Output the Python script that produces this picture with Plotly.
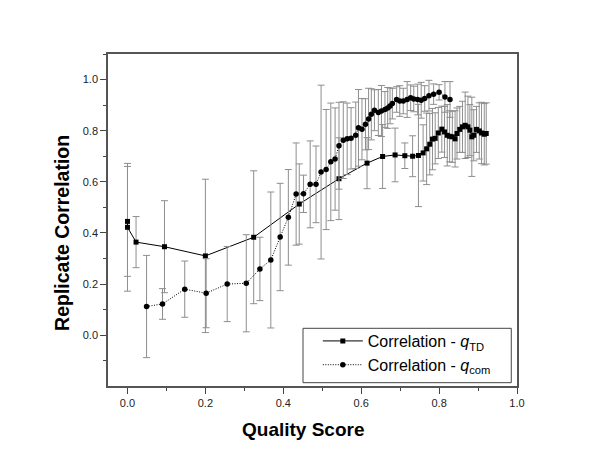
import plotly.graph_objects as go

# ---- data: Correlation - q_TD (squares, solid line)
x_td = [0.0, 0.0, 0.022, 0.095, 0.2, 0.324, 0.441, 0.543, 0.615, 0.655, 0.687, 0.712,
        0.732, 0.747, 0.759, 0.768, 0.776, 0.783, 0.79, 0.798, 0.807, 0.814, 0.821,
        0.827, 0.834, 0.841, 0.846, 0.853, 0.86, 0.867, 0.874, 0.879, 0.884, 0.889,
        0.896, 0.903, 0.909, 0.916, 0.921]
y_td = [0.445, 0.422, 0.364, 0.346, 0.31, 0.383, 0.513, 0.612, 0.673, 0.699, 0.705, 0.702,
        0.70, 0.703, 0.713, 0.729, 0.747, 0.767, 0.77, 0.791, 0.806, 0.795, 0.782,
        0.778, 0.776, 0.768, 0.789, 0.805, 0.815, 0.821, 0.815, 0.802, 0.776, 0.782,
        0.805, 0.799, 0.791, 0.786, 0.789]
e_td = [0.215, 0.25, 0.1, 0.18, 0.3, 0.26, 0.157, 0.16, 0.1, 0.125, 0.105, 0.05,
        0.08, 0.2, 0.11, 0.14, 0.12, 0.12, 0.1, 0.1, 0.09, 0.1, 0.12,
        0.1, 0.1, 0.11, 0.1, 0.09, 0.1, 0.13, 0.12, 0.1, 0.155, 0.1,
        0.09, 0.11, 0.12, 0.12, 0.12]

# ---- data: Correlation - q_com (circles, dotted line)
x_com = [0.049, 0.09, 0.147, 0.202, 0.256, 0.305, 0.34, 0.368, 0.392, 0.413, 0.433,
         0.452, 0.469, 0.484, 0.497, 0.51, 0.522, 0.533, 0.543, 0.554, 0.564, 0.574,
         0.586, 0.593, 0.602, 0.611, 0.619, 0.626, 0.634, 0.644, 0.652, 0.661, 0.668,
         0.674, 0.68, 0.691, 0.699, 0.708, 0.718, 0.727, 0.735, 0.745, 0.754, 0.763,
         0.774, 0.786, 0.80, 0.815, 0.828]
y_com = [0.112, 0.122, 0.18, 0.164, 0.2, 0.203, 0.259, 0.294, 0.384, 0.461, 0.552,
         0.553, 0.59, 0.59, 0.638, 0.648, 0.678, 0.689, 0.741, 0.763, 0.768, 0.77,
         0.782, 0.811, 0.806, 0.825, 0.846, 0.864, 0.88, 0.871, 0.877, 0.883, 0.889,
         0.897, 0.906, 0.922, 0.916, 0.916, 0.922, 0.929, 0.924, 0.922, 0.919, 0.926,
         0.937, 0.943, 0.95, 0.932, 0.922]
e_com = [0.2, 0.06, 0.11, 0.135, 0.147, 0.19, 0.124, 0.266, 0.21, 0.187, 0.2,
         0.073, 0.17, 0.15, 0.34, 0.235, 0.23, 0.2, 0.17, 0.15, 0.14, 0.12,
         0.13, 0.15, 0.12, 0.1, 0.12, 0.1, 0.08, 0.09, 0.1, 0.07, 0.08,
         0.07, 0.06, 0.05, 0.06, 0.05, 0.07, 0.05, 0.05, 0.06, 0.07, 0.05,
         0.06, 0.04, 0.03, 0.06, 0.07]

FONT = "Liberation Sans, Arial, sans-serif"
ERR_COLOR = "#8e8e8e"

fig = go.Figure()
fig.add_trace(go.Scatter(
    x=x_td, y=y_td, mode="lines+markers",
    name="Correlation - <i>q</i><sub>TD</sub>",
    line=dict(color="black", width=1),
    marker=dict(symbol="square", size=5, color="black"),
    error_y=dict(type="data", array=e_td, visible=True, color=ERR_COLOR,
                 thickness=1, width=3.5),
))
fig.add_trace(go.Scatter(
    x=x_com, y=y_com, mode="lines+markers",
    name="Correlation - <i>q</i><sub>com</sub>",
    line=dict(color="black", width=1, dash="1px,1.5px"),
    marker=dict(symbol="circle", size=5.5, color="black"),
    error_y=dict(type="data", array=e_com, visible=True, color=ERR_COLOR,
                 thickness=1, width=3.5),
))

axis_common = dict(
    showline=True, linecolor="#555555", linewidth=1.5, mirror=True,
    ticks="outside", ticklen=6, tickcolor="#444444", tickwidth=1,
    showgrid=False, zeroline=False, tickformat=".1f",
    tickfont=dict(family=FONT, size=11, color="#222222"),
    minor=dict(dtick=0.1, ticks="outside", ticklen=3, tickcolor="#444444", tickwidth=1),
)
fig.update_xaxes(range=[-0.05, 1.0], tick0=0, dtick=0.2, **axis_common)
fig.update_yaxes(range=[-0.199, 1.1], tick0=0, dtick=0.2, **axis_common)

fig.update_layout(
    width=600, height=463,
    margin=dict(l=108, r=83, t=54, b=77),
    paper_bgcolor="white", plot_bgcolor="white",
    font=dict(family=FONT, color="black"),
    showlegend=True,
    legend=dict(
        x=0.513, y=0.012, xanchor="left", yanchor="bottom",
        bgcolor="rgba(0,0,0,0)", borderwidth=0,
        font=dict(family=FONT, size=16, color="black"),
        tracegroupgap=0, itemwidth=40,
    ),
    shapes=[
        dict(type="rect", xref="paper", yref="paper", layer="above",
             x0=0.4768, x1=0.986, y0=0.01, y1=0.1738,
             fillcolor="white", line=dict(color="#444444", width=1)),
    ],
    annotations=[
        dict(text="<b>Quality Score</b>", xref="paper", yref="paper",
             x=0.477, y=-0.1325, showarrow=False, xanchor="center", yanchor="middle",
             font=dict(family=FONT, size=19, color="black")),
        dict(text="<b>Replicate Correlation</b>", xref="paper", yref="paper",
             x=-0.1125, y=0.461, showarrow=False, xanchor="center", yanchor="middle",
             textangle=-90, font=dict(family=FONT, size=19.5, color="black")),
    ],
)

fig.write_html("out.html", config={"displayModeBar": False},
               post_script="document.body.style.margin='0';document.body.style.padding='0';")
